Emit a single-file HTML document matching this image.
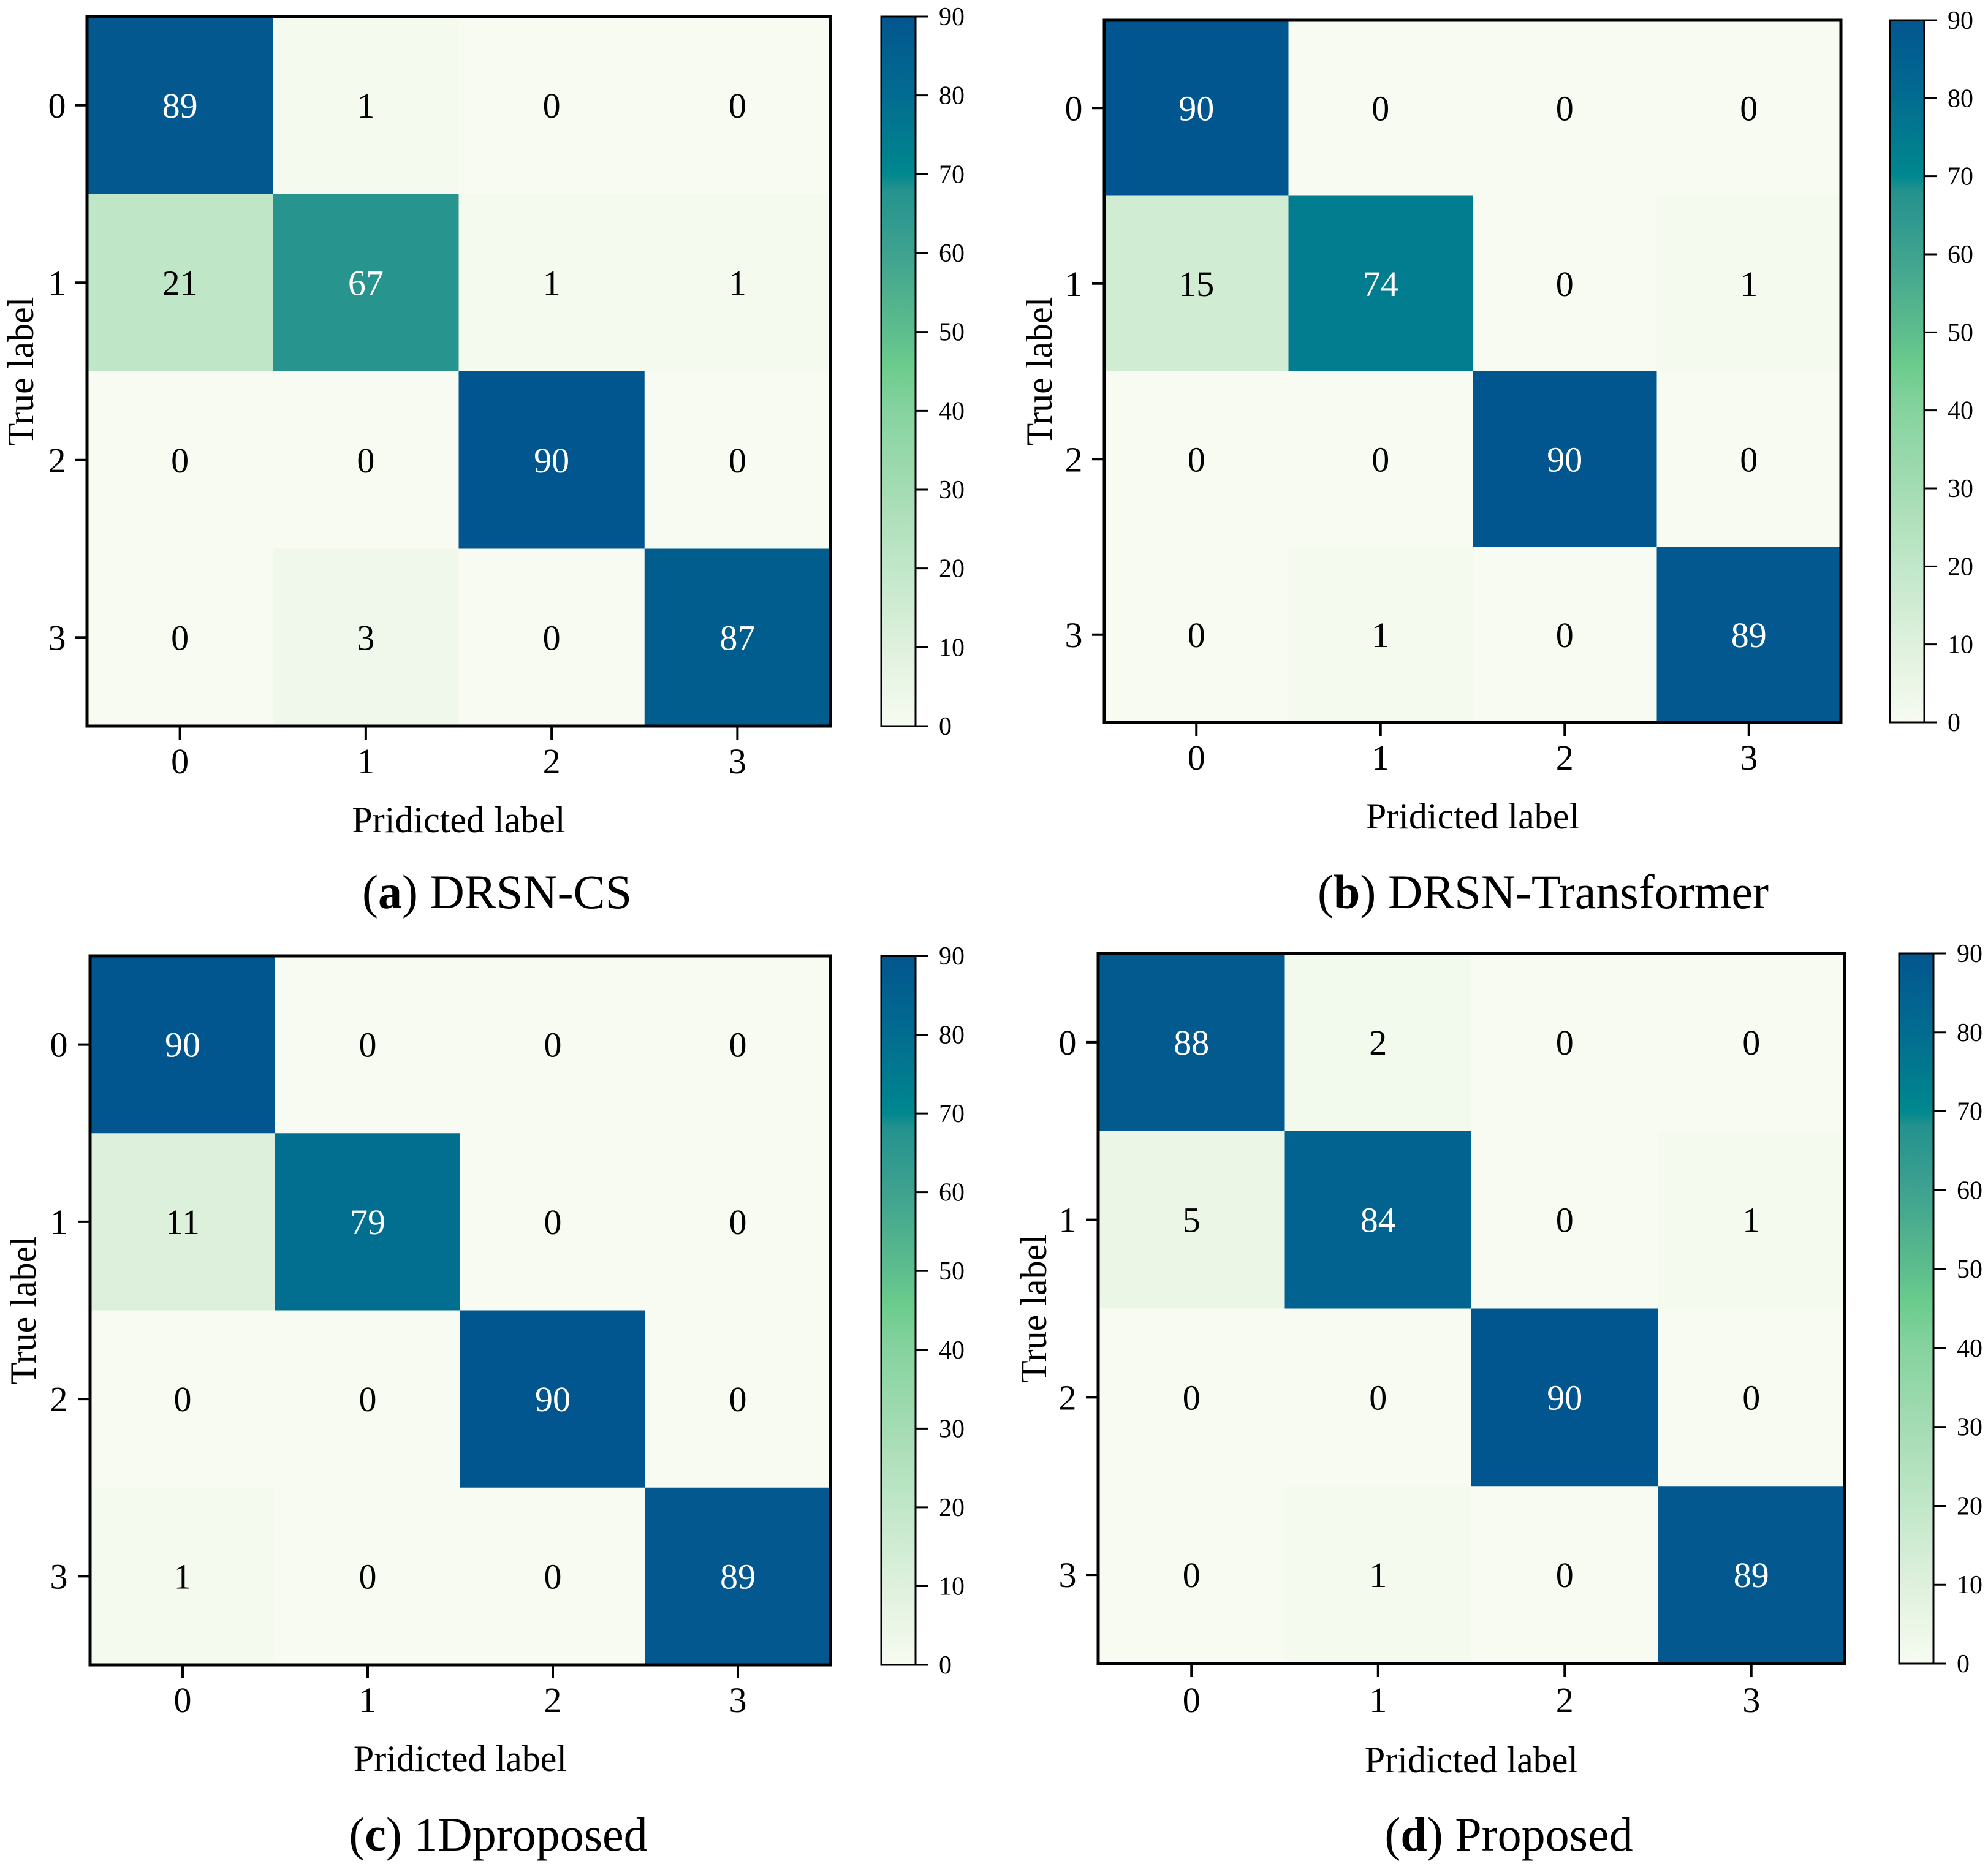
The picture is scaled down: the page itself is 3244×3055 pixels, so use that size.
<!DOCTYPE html>
<html><head><meta charset="utf-8">
<style>
html,body{margin:0;padding:0;background:#fff;}
svg{display:block;font-family:"Liberation Serif","DejaVu Serif",serif;}
svg text{font-family:"Liberation Serif","DejaVu Serif",serif;fill:#000;}
</style></head>
<body>
<svg id="fig" width="3244" height="3055" viewBox="0 0 3244 3055" xmlns="http://www.w3.org/2000/svg" font-family="Liberation Serif, serif"></svg>
<script>
// data
const classLabels = ["0","1","2","3"];
const matrixA = [[89,1,0,0],[21,67,1,1],[0,0,90,0],[0,3,0,87]];
const matrixB = [[90,0,0,0],[15,74,0,1],[0,0,90,0],[0,1,0,89]];
const matrixC = [[90,0,0,0],[11,79,0,0],[0,0,90,0],[1,0,0,89]];
const matrixD = [[88,2,0,0],[5,84,0,1],[0,0,90,0],[0,1,0,89]];
const colorbarTicks = [0,10,20,30,40,50,60,70,80,90];
const captionLetters = ["a","b","c","d"];
const captionNames = ["DRSN-CS","DRSN-Transformer","1Dproposed","Proposed"];
const vmin = 0, vmax = 90;

const cmapStops = [
  [0,"#f7fbf1"],[10,"#dff1dd"],[20,"#c1e7c9"],[30,"#a4dcb3"],[40,"#86d39f"],
  [46,"#6acb8c"],[50,"#5dbd8d"],[60,"#3ea28f"],[68,"#24928e"],[70,"#00888f"],
  [80,"#026c90"],[90,"#02568f"]
];
function hex2rgb(h){return [parseInt(h.substr(1,2),16),parseInt(h.substr(3,2),16),parseInt(h.substr(5,2),16)];}
function cmap(v){
  v=Math.max(vmin,Math.min(vmax,v));
  for(let i=0;i<cmapStops.length-1;i++){
    const [a,ca]=cmapStops[i],[b,cb]=cmapStops[i+1];
    if(v>=a&&v<=b){const t=(v-a)/(b-a);const A=hex2rgb(ca),B=hex2rgb(cb);
      return "rgb("+A.map((x,k)=>Math.round(x+(B[k]-x)*t)).join(",")+")";}
  }
  return cmapStops[cmapStops.length-1][1];
}
const NS="http://www.w3.org/2000/svg";
const FONT="Liberation Serif, DejaVu Serif, serif";
const svg=document.getElementById("fig");
function mk(tag,attrs,parent){const e=document.createElementNS(NS,tag);for(const k in attrs)e.setAttribute(k,attrs[k]);if(tag==="text")e.setAttribute("font-family",FONT);(parent||svg).appendChild(e);return e;}

const defs=mk("defs",{});
const grad=mk("linearGradient",{id:"cbgrad",x1:"0",y1:"1",x2:"0",y2:"0"},defs);
for(let v=0;v<=90;v+=2){mk("stop",{offset:(v/90).toFixed(3),"stop-color":cmap(v)},grad);}

const panels=[
 {m:matrixA,x0:142,y0:27,x1:1355,y1:1185,cbx:1438,cbw:56,ylabX:35,ytickX:93,xtickY:1262,xtitleY:1358,capX:811,capY:1482},
 {m:matrixB,x0:1802,y0:33,x1:3004,y1:1179,cbx:3084,cbw:56,ylabX:1697,ytickX:1752,xtickY:1256,xtitleY:1352,capX:2518,capY:1482},
 {m:matrixC,x0:147,y0:1560,x1:1355,y1:2717,cbx:1438,cbw:56,ylabX:39,ytickX:96,xtickY:2794,xtitleY:2890,capX:813,capY:3020},
 {m:matrixD,x0:1792,y0:1556,x1:3010,y1:2715,cbx:3099,cbw:56,ylabX:1688,ytickX:1742,xtickY:2794,xtitleY:2892,capX:2462,capY:3020}
];

panels.forEach((p,pi)=>{
  const g=mk("g",{});
  
  
  const n=classLabels.length;
  const cw=(p.x1-p.x0)/n, ch=(p.y1-p.y0)/n;
  const xc=j=>p.x0+cw*(j+0.5), yc=i=>p.y0+ch*(i+0.5);
  for(let i=0;i<n;i++)for(let j=0;j<n;j++){
    const v=p.m[i][j];
    const r=mk("rect",{x:p.x0+cw*j,y:p.y0+ch*i,width:cw+0.5,height:ch+0.5,fill:cmap(v)},g);
    
    
    const t=mk("text",{x:xc(j),y:yc(i)+20,"text-anchor":"middle","font-size":"58",style:"fill:"+(v>45?"#fff":"#000")},g);
    t.textContent=v;
    
    
  }
  const fr=mk("rect",{x:p.x0,y:p.y0,width:p.x1-p.x0,height:p.y1-p.y0,fill:"none",stroke:"#000","stroke-width":"5"},g);
  
  
  classLabels.forEach((lab,k)=>{
    mk("line",{x1:p.x0-20,x2:p.x0,y1:yc(k),y2:yc(k),stroke:"#000","stroke-width":"4"},g);
    const ty=mk("text",{x:p.ytickX,y:yc(k)+20,"text-anchor":"middle","font-size":"58"},g);
    ty.textContent=lab;
    
    
    mk("line",{x1:xc(k),x2:xc(k),y1:p.y1,y2:p.y1+22,stroke:"#000","stroke-width":"4"},g);
    const tx=mk("text",{x:xc(k),y:p.xtickY,"text-anchor":"middle","font-size":"58"},g);
    tx.textContent=lab;
    
    
  });
  const my=(p.y0+p.y1)/2;
  const yl=mk("text",{x:0,y:0,"text-anchor":"middle","font-size":"60",transform:"translate("+(p.ylabX+19)+","+my+") rotate(-90)"},g);
  yl.textContent="True label";
  
  
  const xl=mk("text",{x:(p.x0+p.x1)/2,y:p.xtitleY,"text-anchor":"middle","font-size":"60"},g);
  xl.textContent="Pridicted label";
  
  
  const cb=mk("rect",{x:p.cbx,y:p.y0,width:p.cbw,height:p.y1-p.y0,fill:"url(#cbgrad)",stroke:"#000","stroke-width":"3"},g);
  
  
  const cy=v=>p.y1-(v-vmin)/(vmax-vmin)*(p.y1-p.y0);
  colorbarTicks.forEach(v=>{
    mk("line",{x1:p.cbx+p.cbw,x2:p.cbx+p.cbw+20,y1:cy(v),y2:cy(v),stroke:"#000","stroke-width":"3"},g);
    const ct=mk("text",{x:p.cbx+p.cbw+38,y:cy(v)+14,"font-size":"42"},g);
    ct.textContent=v;
    
    
  });
  const cap=mk("text",{x:p.capX,y:p.capY,"text-anchor":"middle","font-size":"78"},g);
  
  
  const b1=mk("tspan",{},cap);b1.textContent="(";
  const b2=mk("tspan",{"font-weight":"bold"},cap);b2.textContent=captionLetters[pi];
  const b3=mk("tspan",{},cap);b3.textContent=") "+captionNames[pi];
});
</script>
</body></html>
